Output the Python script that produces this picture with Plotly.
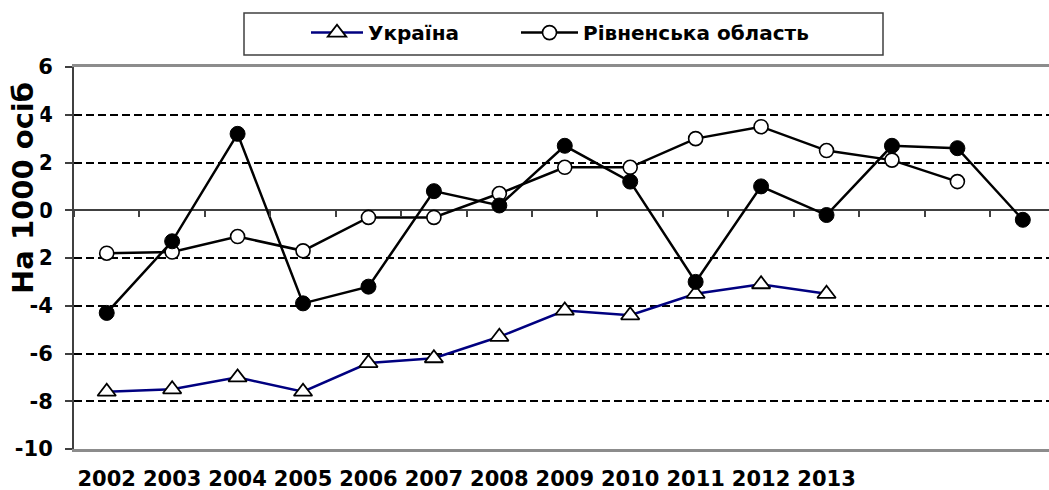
import plotly.graph_objects as go

# ---- data ----
categories = ["2002", "2003", "2004", "2005", "2006", "2007", "2008",
              "2009", "2010", "2011", "2012", "2013", " ", "  ", "   "]
tick_labels = ["2002", "2003", "2004", "2005", "2006", "2007", "2008",
               "2009", "2010", "2011", "2012", "2013"]
y_tick_vals = [-10, -8, -6, -4, -2, 0, 2, 4, 6]
y_tick_text = ["-10", "-8", "-6", "-4", "-2", "0", "2", "4", "6"]
ukraine = [-7.6, -7.5, -7.0, -7.6, -6.4, -6.2, -5.3, -4.2, -4.4, -3.5, -3.1, -3.5]
rivne = [-1.8, -1.75, -1.1, -1.7, -0.3, -0.3, 0.7, 1.8, 1.8, 3.0, 3.5, 2.5, 2.1, 1.2]
rivne_2 = [-4.3, -1.3, 3.2, -3.9, -3.2, 0.8, 0.2, 2.7, 1.2, -3.0, 1.0, -0.2, 2.7, 2.6, -0.4]
y_title = "На 1000 осіб"

FONT = "DejaVu Sans"
legend_font = dict(family=FONT, size=20, color="black", weight="bold")

fig = go.Figure()
fig.add_trace(go.Scatter(
    x=categories[:len(ukraine)], y=ukraine, name="Україна",
    mode="lines+markers", legend="legend",
    line=dict(color="#000080", width=2.5),
    marker=dict(symbol="triangle-up", size=16, color="white",
                line=dict(color="black", width=1.8)),
))
fig.add_trace(go.Scatter(
    x=categories[:len(rivne)], y=rivne, name="Рівненська область",
    mode="lines+markers", legend="legend2",
    line=dict(color="black", width=2.5),
    marker=dict(symbol="circle", size=14, color="white",
                line=dict(color="black", width=1.6)),
))
# third series (no legend entry) drawn on the overlay category axis that
# carries the tick marks along the zero line
fig.add_trace(go.Scatter(
    x=categories[:len(rivne_2)], y=rivne_2, name="Рівненська область (2)",
    xaxis="x2", yaxis="y",
    mode="lines+markers", showlegend=False,
    line=dict(color="black", width=2.5),
    marker=dict(symbol="circle", size=15, color="black",
                line=dict(color="black", width=1)),
))

fig.update_layout(
    width=1049, height=490,
    margin=dict(l=74, r=0, t=67, b=41),
    paper_bgcolor="white", plot_bgcolor="white",
    font=dict(family=FONT, color="black"),
    showlegend=True,
    legend=dict(
        orientation="h", x=(306 - 74) / 975, y=1.09, xanchor="left", yanchor="middle",
        font=legend_font, bgcolor="rgba(0,0,0,0)", borderwidth=0, itemwidth=52,
    ),
    legend2=dict(
        orientation="h", x=(516 - 74) / 975, y=1.09, xanchor="left", yanchor="middle",
        font=legend_font, bgcolor="rgba(0,0,0,0)", borderwidth=0, itemwidth=57,
    ),
    xaxis=dict(
        type="category", categoryorder="array", categoryarray=categories,
        range=[-0.5, 14.4], autorange=False, automargin=False,
        tickmode="array", tickvals=tick_labels, ticktext=tick_labels,
        ticks="", showgrid=False, zeroline=False,
        showline=True, mirror=True, linecolor="#8c8c8c", linewidth=3,
        tickfont=dict(family=FONT, size=21, color="black", weight="bold"),
        ticklabelstandoff=9,
    ),
    xaxis2=dict(
        type="category", categoryorder="array", categoryarray=categories,
        overlaying="x", anchor="free", position=0.625, side="bottom",
        range=[-0.5, 14.4], autorange=False, automargin=False,
        tickmode="linear", tick0=0, dtick=1, tickson="boundaries",
        ticks="outside", ticklen=6, tickwidth=1.5, tickcolor="#404040",
        showticklabels=False, showgrid=False, showline=False, zeroline=False,
    ),
    yaxis=dict(
        range=[-10, 6], autorange=False, automargin=False,
        tickmode="array", tickvals=y_tick_vals, ticktext=y_tick_text,
        showgrid=True, gridcolor="black", gridwidth=2, griddash="8px,4px",
        zeroline=True, zerolinecolor="#404040", zerolinewidth=1.5,
        showline=True, linecolor="#404040", linewidth=2,
        ticks="outside", ticklen=7, tickwidth=1.5, tickcolor="#404040",
        tickfont=dict(family=FONT, size=21, color="black", weight="bold"),
        ticklabelstandoff=8,
    ),
    shapes=[dict(
        type="rect", xref="paper", yref="paper",
        x0=(244 - 74) / 975, x1=(883 - 74) / 975,
        y0=(449 - 55) / 382, y1=(449 - 13) / 382,
        line=dict(color="#404040", width=1.5), fillcolor="rgba(0,0,0,0)",
        layer="above",
    )],
    annotations=[dict(
        text=y_title, textangle=-90, showarrow=False,
        xref="paper", yref="paper",
        x=(23 - 74) / 975, y=(449 - 188) / 382,
        xanchor="center", yanchor="middle",
        font=dict(family=FONT, size=29, color="black", weight="bold"),
        bgcolor="white", borderpad=0,
    )],
)

fig.write_html(
    "out.html",
    config={"displayModeBar": False},
    post_script="document.body.style.margin='0';document.body.style.overflow='hidden';",
)
